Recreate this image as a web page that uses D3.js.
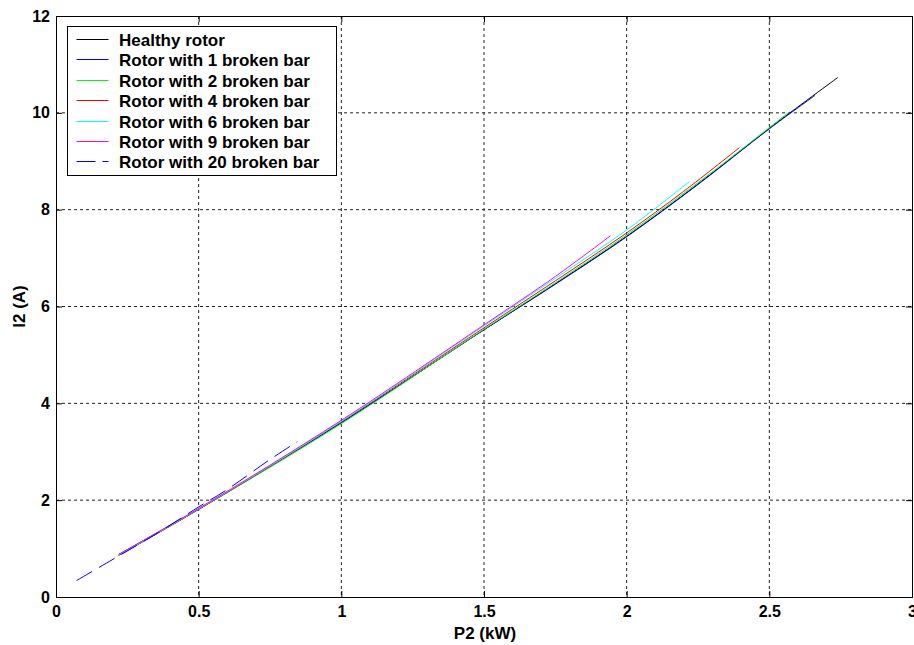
<!DOCTYPE html>
<html>
<head>
<meta charset="utf-8">
<script src="https://d3js.org/d3.v7.min.js"></script>
<style>
  body { margin: 0; background: #fff; }
  text { font-family: Arial, "Liberation Sans", sans-serif; font-weight: bold; }
</style>
</head>
<body>
<svg id="chart" width="914" height="645"></svg>
<script>
// ---- data: P2 (kW) vs I2 (A) ----
var xTicks = [0, 0.5, 1, 1.5, 2, 2.5, 3];
var yTicks = [0, 2, 4, 6, 8, 10, 12];

var seriesNames = ["Healthy rotor", "Rotor with 1 broken bar", "Rotor with 2 broken bar",
  "Rotor with 4 broken bar", "Rotor with 6 broken bar", "Rotor with 9 broken bar",
  "Rotor with 20 broken bar"];
var seriesColors = ["#000000", "#0000ff", "#00ff00", "#ff0000", "#00ffff", "#ff00ff", "#0000ff"];

var p2Healthy = [0.22, 0.5, 1.0, 1.5, 1.75, 2.0, 2.25, 2.5, 2.74];
var i2Healthy = [0.86, 1.81, 3.60, 5.52, 6.47, 7.45, 8.53, 9.68, 10.73];
var p2Bar1 = [0.22, 0.5, 1.0, 1.5, 1.75, 2.0, 2.25, 2.5, 2.66];
var i2Bar1 = [0.88, 1.82, 3.60, 5.52, 6.46, 7.44, 8.52, 9.67, 10.36];
var p2Bar2 = [0.22, 0.5, 1.0, 1.5, 1.75, 2.0, 2.3, 2.57];
var i2Bar2 = [0.87, 1.81, 3.58, 5.53, 6.49, 7.48, 8.78, 10.02];
var p2Bar4 = [0.22, 0.5, 1.0, 1.5, 1.75, 2.0, 2.2, 2.395];
var i2Bar4 = [0.87, 1.81, 3.62, 5.56, 6.53, 7.52, 8.38, 9.28];
var p2Bar6 = [0.22, 0.5, 1.0, 1.5, 1.75, 2.0, 2.22];
var i2Bar6 = [0.87, 1.82, 3.63, 5.60, 6.58, 7.58, 8.58];
var p2Bar9 = [0.22, 0.5, 1.0, 1.5, 1.75, 1.943];
var i2Bar9 = [0.88, 1.83, 3.65, 5.62, 6.62, 7.46];
var p2Bar20 = [0.072, 0.2, 0.35, 0.5, 0.6, 0.74, 0.846];
var i2Bar20 = [0.34, 0.78, 1.30, 1.86, 2.22, 2.80, 3.21];

var p2All = [p2Healthy, p2Bar1, p2Bar2, p2Bar4, p2Bar6, p2Bar9, p2Bar20];
var i2All = [i2Healthy, i2Bar1, i2Bar2, i2Bar4, i2Bar6, i2Bar9, i2Bar20];

// ---- layout ----
var plotLeft = 56, plotTop = 16, plotRight = 912, plotBottom = 597;

var x = d3.scaleLinear().domain([0, 3]).range([plotLeft, plotRight]);
var y = d3.scaleLinear().domain([0, 12]).range([plotBottom, plotTop]);

var svg = d3.select("#chart");

// grid
svg.append("g").selectAll("line").data(xTicks.slice(1, -1)).enter().append("line")
  .attr("x1", function(d) { return x(d); }).attr("x2", function(d) { return x(d); })
  .attr("y1", plotTop).attr("y2", plotBottom)
  .attr("stroke", "#222").attr("stroke-dasharray", "3,3");
svg.append("g").selectAll("line").data(yTicks.slice(1, -1)).enter().append("line")
  .attr("y1", function(d) { return y(d); }).attr("y2", function(d) { return y(d); })
  .attr("x1", plotLeft).attr("x2", plotRight)
  .attr("stroke", "#222").attr("stroke-dasharray", "3,3");

// axes
svg.append("g").attr("transform", "translate(0," + plotBottom + ")")
  .call(d3.axisBottom(x).tickValues(xTicks).tickSize(-6).tickPadding(9)
    .tickFormat(function(d) { return d; }));
svg.append("g").attr("transform", "translate(" + plotLeft + ",0)")
  .call(d3.axisLeft(y).tickValues(yTicks).tickSize(-6).tickPadding(6));
svg.append("g").attr("transform", "translate(0," + plotTop + ")")
  .call(d3.axisTop(x).tickValues(xTicks).tickSize(-6).tickFormat(""));
svg.append("g").attr("transform", "translate(" + plotRight + ",0)")
  .call(d3.axisRight(y).tickValues(yTicks).tickSize(-6).tickFormat(""));
svg.selectAll(".domain").attr("stroke", "#000");
svg.selectAll(".tick line").attr("stroke", "#000");
svg.selectAll(".tick text").attr("font-size", 16).attr("font-weight", "bold")
  .attr("font-family", "Arial, 'Liberation Sans', sans-serif").attr("fill", "#000");

// curves
var line = d3.line()
  .x(function(d) { return x(d[0]); })
  .y(function(d) { return y(d[1]); })
  .curve(d3.curveCatmullRom);

var series = p2All.map(function(ps, k) {
  return ps.map(function(p, j) { return [p, i2All[k][j]]; });
});

svg.append("g").selectAll("path").data(series).enter().append("path")
  .attr("d", line)
  .attr("fill", "none")
  .attr("stroke", function(d, k) { return seriesColors[k]; })
  .attr("stroke-width", 1)
  .attr("stroke-dasharray", function(d, k) { return k === 6 ? "18,8" : null; });

// labels
svg.append("text").attr("x", 485).attr("y", 639)
  .attr("text-anchor", "middle").attr("font-size", 17).text("P2 (kW)");
svg.append("text").attr("transform", "translate(25," + y(6) + ") rotate(-90)")
  .attr("text-anchor", "middle").attr("font-size", 17).text("I2 (A)");

// legend
var lg = svg.append("g").attr("transform", "translate(67.5,26.5)");
lg.append("rect").attr("width", 269).attr("height", 149)
  .attr("fill", "#fff").attr("stroke", "#000");
var rows = lg.selectAll("g").data(seriesNames).enter().append("g")
  .attr("transform", function(d, k) { return "translate(0," + Math.round(13 + k * 20.4) + ")"; });
rows.append("line").attr("x1", 9).attr("x2", 41)
  .attr("stroke", function(d, k) { return seriesColors[k]; })
  .attr("stroke-dasharray", function(d, k) { return k === 6 ? "19,7" : null; });
rows.append("text").attr("x", 51.5).attr("y", 6).attr("font-size", 17).text(function(d) { return d; });
</script>
</body>
</html>
